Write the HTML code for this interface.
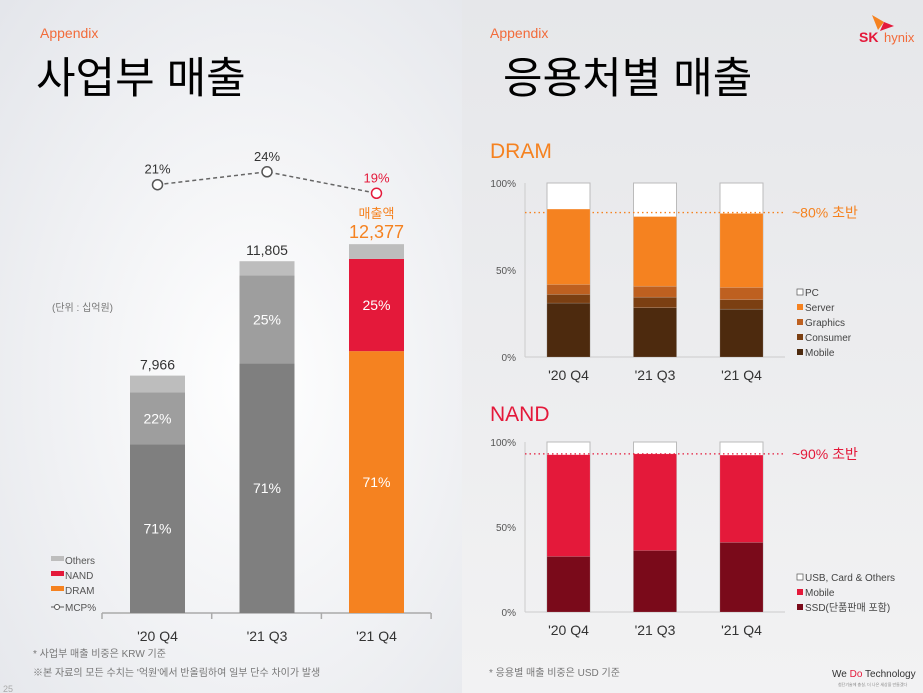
<!DOCTYPE html>
<html><head><meta charset="utf-8"><style>
html,body{margin:0;padding:0;width:923px;height:693px;overflow:hidden;}
body{font-family:"Liberation Sans","Noto Sans CJK KR",sans-serif;}
svg text{font-family:"Liberation Sans","Noto Sans CJK KR",sans-serif;}
</style></head><body>
<svg id="s" width="923" height="693" viewBox="0 0 923 693" xmlns="http://www.w3.org/2000/svg">
<defs>
<radialGradient id="lg" cx="0.55" cy="0.55" r="0.8"><stop offset="0" stop-color="#ffffff"/><stop offset="1" stop-color="#e3e5ea"/></radialGradient>
<linearGradient id="rg" x1="0" y1="0" x2="0" y2="1"><stop offset="0" stop-color="#e6e7ea"/><stop offset="1" stop-color="#f2f2f3"/></linearGradient>
</defs>
<rect x="0" y="0" width="462" height="693" fill="url(#lg)"/>
<rect x="462" y="0" width="461" height="693" fill="url(#rg)"/>
<text x="40" y="38" font-size="14" fill="#f26b3a">Appendix</text>
<text x="36" y="93" font-size="43" fill="#000">사업부 매출</text>
<text x="490" y="38" font-size="14" fill="#f26b3a">Appendix</text>
<text x="503" y="93" font-size="43" fill="#000">응용처별 매출</text>
<g>
<path d="M872 15 L884 22 L878 30 Z" fill="#f58220"/><path d="M884 22 L894 26 L880 31 Z" fill="#e4193a"/>
<text x="859" y="42" font-size="14" font-weight="bold" fill="#e4193a">SK</text>
<text x="884" y="42" font-size="13" fill="#f26b3a">hynix</text>
</g>
<text x="52" y="311" font-size="10" fill="#777">(단위 : 십억원)</text>
<g id="left"></g>
<g id="dram"></g>
<g id="nand"></g>
<text x="490" y="158" font-size="21" fill="#f58220">DRAM</text>
<text x="490" y="421" font-size="21" fill="#e4193a">NAND</text>
<text x="33" y="657" font-size="10" fill="#777">* 사업부 매출 비중은 KRW 기준</text>
<text x="33" y="676" font-size="10" fill="#777">※본 자료의 모든 수치는 '억원'에서 반올림하여 일부 단수 차이가 발생</text>
<text x="3" y="692" font-size="9" fill="#aaa">25</text>
<text x="489" y="676" font-size="10" fill="#777">* 응용별 매출 비중은 USD 기준</text>
<text x="832" y="677" font-size="10" fill="#333">We <tspan fill="#e4193a">Do</tspan> Technology</text>
<text x="838" y="686" font-size="4" fill="#888">첨단기술에 충실, 더 나은 세상을 만들겠다</text>
</svg>
<script>
const NS='http://www.w3.org/2000/svg';
function mk(p,t,a,txt){const e=document.createElementNS(NS,t);for(const k in a)e.setAttribute(k,a[k]);if(txt!==undefined)e.textContent=txt;p.appendChild(e);return e;}
// left chart data
const categories=["'20 Q4","'21 Q3","'21 Q4"];
const totals=[7966,11805,12377];
const totalLabels=["7,966","11,805","12,377"];
const dramPct=[71,71,71];
const nandPct=[22,25,25];
const mcpPct=[21,24,19];
// dram mix
const dramMobile=[31,28.3,27.5];
const dramConsumer=[5,6.1,5.5];
const dramGraphics=[5.7,6.3,7];
const dramServer=[43.3,40,42.5];
const dramRef=83;
// nand mix
const nandSsd=[32.7,36.2,41];
const nandMobile=[59.8,56.8,51.3];
const nandRef=93;

const L=document.getElementById('left');
const base=613, yv=v=>base-v*0.0298, xc=i=>157.5+i*109.5, bw=55;
const my=v=>275-4.3*v;
mk(L,'line',{x1:102,y1:613,x2:431,y2:613,stroke:'#aaa','stroke-width':1.5});
for(let i=0;i<4;i++)mk(L,'line',{x1:102+i*109.7,y1:613,x2:102+i*109.7,y2:619,stroke:'#aaa','stroke-width':1.5});
for(let i=0;i<3;i++){
 const t=totals[i],dr=t*dramPct[i]/100,na=t*nandPct[i]/100;
 const last=i===2;
 const dc=last?'#f58220':'#7f7f7f', nc=last?'#e4193a':'#9e9e9e';
 const x=xc(i)-bw/2;
 let r=mk(L,'rect',{x:x,y:yv(dr),width:bw,height:base-yv(dr),fill:dc});
 
 r=mk(L,'rect',{x:x,y:yv(dr+na),width:bw,height:yv(dr)-yv(dr+na),fill:nc});
 
 r=mk(L,'rect',{x:x,y:yv(t),width:bw,height:yv(dr+na)-yv(t),fill:'#bdbdbd'});
 
 mk(L,'text',{x:xc(i),y:(yv(dr)+base)/2+5,'font-size':14,fill:'#fff','text-anchor':'middle'},dramPct[i]+'%');
 mk(L,'text',{x:xc(i),y:(yv(dr)+yv(dr+na))/2+5,'font-size':14,fill:'#fff','text-anchor':'middle'},nandPct[i]+'%');
 mk(L,'text',{x:xc(i),y:yv(t)-6,'font-size':last?18:14,fill:last?'#f58220':'#333','text-anchor':'middle'},totalLabels[i]);
 mk(L,'text',{x:xc(i),y:641,'font-size':14,fill:'#333','text-anchor':'middle'},categories[i]);
}
mk(L,'text',{x:xc(2),y:218,'font-size':13,fill:'#f58220','text-anchor':'middle'},'매출액');
let d='';mcpPct.forEach((v,i)=>{d+=(i?'L':'M')+xc(i)+' '+my(v);});
mk(L,'path',{d:d,stroke:'#666','stroke-width':1.5,fill:'none','stroke-dasharray':'4 3'});
mcpPct.forEach((v,i)=>{const red=i===2;
 const c=mk(L,'circle',{cx:xc(i),cy:my(v),r:5,fill:'#fff',stroke:red?'#e4193a':'#555','stroke-width':1.5});
 
 mk(L,'text',{x:xc(i),y:my(v)-11,'font-size':13,fill:red?'#e4193a':'#333','text-anchor':'middle'},v+'%');});
const lg=[['#bdbdbd','Others'],['#e4193a','NAND'],['#f58220','DRAM']];
lg.forEach((g,i)=>{mk(L,'rect',{x:51,y:556+i*15,width:13,height:5,fill:g[0]});
 const t=mk(L,'text',{x:65,y:564+i*15,'font-size':10,fill:'#555'},g[1]);
 });
mk(L,'line',{x1:51,y1:607,x2:64,y2:607,stroke:'#555','stroke-width':1});
mk(L,'circle',{cx:57,cy:607,r:2.5,fill:'#fff',stroke:'#555'});
mk(L,'text',{x:65,y:611,'font-size':10,fill:'#555'},'MCP%');

function stack(G,top,bot,series,colors,ref,refColor,refLabel,legend,legendY){
 const h=bot-top, y=v=>bot-v/100*h, bx=i=>547+i*86.5, w=43;
 mk(G,'line',{x1:525,y1:top,x2:525,y2:bot,stroke:'#ccc'});
 mk(G,'line',{x1:525,y1:bot,x2:785,y2:bot,stroke:'#ccc'});
 [[100,'100%'],[50,'50%'],[0,'0%']].forEach(t=>mk(G,'text',{x:516,y:y(t[0])+4,'font-size':10,fill:'#555','text-anchor':'end'},t[1]));
 for(let i=0;i<3;i++){
  mk(G,'rect',{x:bx(i),y:top,width:w,height:h,fill:'#fff',stroke:'#bbb'});
  let acc=0;
  series.forEach((s,k)=>{const r=mk(G,'rect',{x:bx(i),y:y(acc+s[i]),width:w,height:y(acc)-y(acc+s[i]),fill:colors[k],stroke:'rgba(255,255,255,0.25)','stroke-width':0.5});
   acc+=s[i];});
  mk(G,'text',{x:bx(i)+w/2,y:bot+23,'font-size':14,fill:'#333','text-anchor':'middle'},categories[i]);
 }
 mk(G,'line',{x1:525,y1:y(ref),x2:785,y2:y(ref),stroke:refColor,'stroke-width':1.3,'stroke-dasharray':'1.5 3'});
 mk(G,'text',{x:792,y:y(ref)+5,'font-size':14,fill:refColor},refLabel);
 legend.forEach((g,i)=>{mk(G,'rect',{x:797,y:legendY+i*15-7,width:6,height:6,fill:g[0],stroke:g[0]==='#fff'?'#555':'none','stroke-width':0.7});
  const t=mk(G,'text',{x:805,y:legendY+i*15,'font-size':10,fill:'#444'},g[1]);
  });
}
stack(document.getElementById('dram'),183,357,[dramMobile,dramConsumer,dramGraphics,dramServer],['#4d2a0e','#7b3f12','#be6020','#f58220'],dramRef,'#f58220','~80% 초반',
 [['#fff','PC'],['#f58220','Server'],['#be6020','Graphics'],['#7b3f12','Consumer'],['#4d2a0e','Mobile']],296);
stack(document.getElementById('nand'),442,612,[nandSsd,nandMobile],['#7a0a1a','#e4193a'],nandRef,'#e4193a','~90% 초반',
 [['#fff','USB, Card & Others'],['#e4193a','Mobile'],['#7a0a1a','SSD(단품판매 포함)']],581);
</script>
</body></html>
